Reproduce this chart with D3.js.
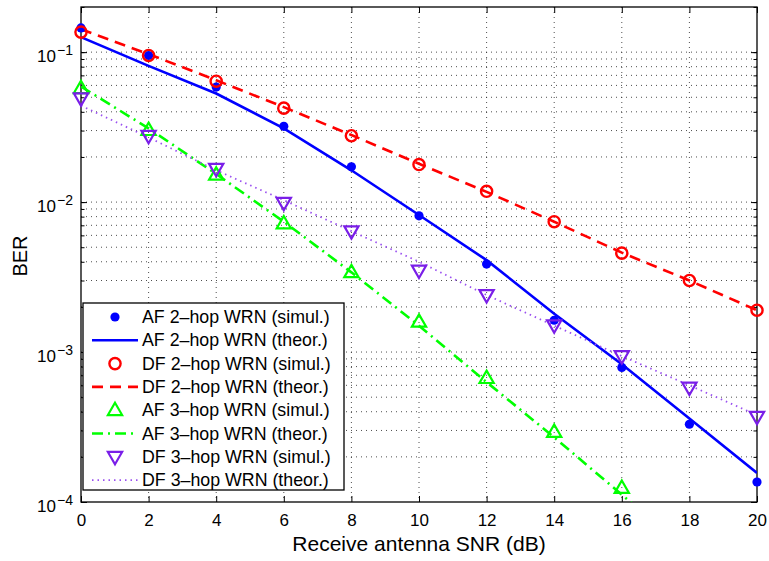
<!DOCTYPE html>
<html><head><meta charset="utf-8">
<script src="https://cdn.jsdelivr.net/npm/d3@7"></script>
<style>body{margin:0;background:#fff;} svg{display:block;font-family:"Liberation Sans",Arial,Helvetica,sans-serif;}</style>
</head><body><svg id="c" width="769" height="561"></svg>
<script>
const snr = [0,2,4,6,8,10,12,14,16,18,20];
const xTicks = [0,2,4,6,8,10,12,14,16,18,20];
const yTicks = [1e-4,1e-3,1e-2,1e-1];
const yTickExp = ["−4","−3","−2","−1"];
const af2Sim = [0.145,0.095,0.0585,0.032,0.0172,0.0081,0.00386,0.00163,0.00079,0.00033,0.000136];
const af2Th  = [0.126,0.081,0.053,0.031,0.0163,0.0082,0.0041,0.0018,0.00083,0.00036,0.000156];
const df2Sim = [0.136,0.095,0.064,0.0423,0.0277,0.0178,0.0118,0.0074,0.00457,0.0030,0.0019];
const df2Th  = [0.142,0.097,0.065,0.043,0.028,0.018,0.0117,0.0074,0.0046,0.0030,0.0019];
const af3Sim = [0.0575,0.0302,0.0152,0.0072,0.0034,0.00159,0.00067,0.000293,0.000124];
const af3Th  = [0.059,0.031,0.0154,0.0074,0.0034,0.0015,0.00063,0.00027,0.000112,0.0000464,0.000019];
const df3Sim = [0.0493,0.0277,0.0167,0.0099,0.0064,0.0035,0.0024,0.00151,0.00094,0.00058,0.00037];
const df3Th  = [0.044,0.027,0.0163,0.0103,0.0064,0.004,0.0024,0.0015,0.00094,0.0006,0.00038];
const legendLabels = ["AF 2–hop WRN (simul.)","AF 2–hop WRN (theor.)","DF 2–hop WRN (simul.)","DF 2–hop WRN (theor.)","AF 3–hop WRN (simul.)","AF 3–hop WRN (theor.)","DF 3–hop WRN (simul.)","DF 3–hop WRN (theor.)"];
const xLabel = "Receive antenna SNR (dB)";
const yLabel = "BER";

const L=81,R=757,T=7,B=502;
const svg=d3.select("#c");
const x=d3.scaleLinear().domain([0,20]).range([L,R]);
const y=d3.scaleLog().domain([1e-4,0.2]).range([B,T]);

// grid
const minor=[];
for(let e=-4;e<=-1;e++){for(let m=1;m<=9;m++){const v=m*Math.pow(10,e); if(v>=1e-4&&v<=0.2) minor.push(v);}}
const grid=svg.append("g").attr("stroke","#222").attr("stroke-width",0.8).attr("stroke-dasharray","1,4").attr("fill","none");
grid.selectAll(".gy").data(minor.filter(v=>v>1e-4&&v<0.2)).join("line").attr("x1",L).attr("x2",R).attr("y1",d=>y(d)).attr("y2",d=>y(d));
grid.selectAll(".gx").data(xTicks.slice(1,-1)).join("line").attr("y1",T).attr("y2",B).attr("x1",d=>x(d)).attr("x2",d=>x(d));

// axes
const ax=svg.append("g").attr("transform",`translate(0,${B})`).call(d3.axisBottom(x).tickValues(xTicks).tickSizeInner(-6).tickSizeOuter(0).tickPadding(12));
ax.selectAll("text").attr("font-size",17).attr("fill","#000").attr("font-family","Liberation Sans, Arial, sans-serif");
svg.append("g").attr("transform",`translate(0,${T})`).call(d3.axisTop(x).tickValues(xTicks).tickSizeInner(-6).tickSizeOuter(0).tickFormat(""));
svg.append("g").attr("transform",`translate(${L},0)`).call(d3.axisLeft(y).tickValues(minor).tickSizeInner(-3.5).tickSizeOuter(0).tickFormat(""));
svg.append("g").attr("transform",`translate(${L},0)`).call(d3.axisLeft(y).tickValues(yTicks).tickSizeInner(-6).tickSizeOuter(0).tickFormat(""));
svg.append("g").attr("transform",`translate(${R},0)`).call(d3.axisRight(y).tickValues(minor).tickSizeInner(-3.5).tickSizeOuter(0).tickFormat(""));
svg.append("g").attr("transform",`translate(${R},0)`).call(d3.axisRight(y).tickValues(yTicks).tickSizeInner(-6).tickSizeOuter(0).tickFormat(""));
svg.selectAll(".domain").remove();
svg.selectAll(".tick line").attr("stroke","#000").attr("stroke-width",1);
svg.append("rect").attr("x",L).attr("y",T).attr("width",R-L).attr("height",B-T).attr("fill","none").attr("stroke","#000").attr("stroke-width",1.3);

// y tick labels
const yl=svg.append("g");
yTicks.forEach((v,i)=>{
  yl.append("text").attr("x",56).attr("y",y(v)+10).attr("text-anchor","end").attr("font-size",17).text("10");
  yl.append("text").attr("x",57).attr("y",y(v)+3).attr("text-anchor","start").attr("font-size",14).text(yTickExp[i]);
});

// labels
svg.append("text").attr("x",(L+R)/2).attr("y",551).attr("text-anchor","middle").attr("font-size",21).text(xLabel);
svg.append("text").attr("transform",`translate(27,${256}) rotate(-90)`).attr("text-anchor","middle").attr("font-size",20).text(yLabel);

// clip
svg.append("clipPath").attr("id","clip").append("rect").attr("x",L).attr("y",T).attr("width",R-L).attr("height",B-T);
const plot=svg.append("g").attr("clip-path","url(#clip)");
const line=d3.line().x((d,i)=>x(snr[i])).y(d=>y(d));

function triUp(cx,cy,s){return `M${cx},${cy-s}L${cx+s*0.95},${cy+s*0.65}L${cx-s*0.95},${cy+s*0.65}Z`;}
function triDown(cx,cy,s){return `M${cx},${cy+s}L${cx+s*0.95},${cy-s*0.65}L${cx-s*0.95},${cy-s*0.65}Z`;}

const styles=[
 {type:"dot",color:"#0000ff"},
 {type:"line",color:"#0000ff",w:2.6,dash:null},
 {type:"circle",color:"#ff0000"},
 {type:"line",color:"#ff0000",w:2.6,dash:"11,7"},
 {type:"up",color:"#00ff00"},
 {type:"line",color:"#00ff00",w:2.6,dash:"11,5,2,5"},
 {type:"down",color:"#7a1ee8"},
 {type:"line",color:"#9a50f0",w:1.8,dash:"1.5,4"}
];
const series=[af2Sim,af2Th,df2Sim,df2Th,af3Sim,af3Th,df3Sim,df3Th];

function drawMarker(g,st,cx,cy){
  if(st.type==="dot") g.append("circle").attr("cx",cx).attr("cy",cy).attr("r",4.6).attr("fill",st.color);
  else if(st.type==="circle") g.append("circle").attr("cx",cx).attr("cy",cy).attr("r",5.6).attr("fill","none").attr("stroke",st.color).attr("stroke-width",2.4);
  else if(st.type==="up") g.append("path").attr("d",triUp(cx,cy,7.5)).attr("fill","none").attr("stroke",st.color).attr("stroke-width",2.2);
  else if(st.type==="down") g.append("path").attr("d",triDown(cx,cy,7.5)).attr("fill","none").attr("stroke",st.color).attr("stroke-width",2.2);
}
series.forEach((data,k)=>{
  const st=styles[k];
  if(st.type==="line"){
    plot.append("path").datum(data).attr("d",line).attr("fill","none").attr("stroke",st.color).attr("stroke-width",st.w).attr("stroke-dasharray",st.dash);
  } else {
    const g=svg.append("g");
    data.forEach((v,i)=>drawMarker(g,st,x(snr[i]),y(v)));
  }
});

// legend
const lg=svg.append("g");
lg.append("rect").attr("x",83).attr("y",303).attr("width",261).attr("height",187).attr("fill","#fff").attr("stroke","#000").attr("stroke-width",1.3);
legendLabels.forEach((t,i)=>{
  const cy=317+i*23.3, st=styles[i];
  if(st.type==="line") lg.append("line").attr("x1",92).attr("x2",138).attr("y1",cy).attr("y2",cy).attr("stroke",st.color).attr("stroke-width",st.w).attr("stroke-dasharray",st.dash);
  else drawMarker(lg,st,115,cy);
  lg.append("text").attr("x",142).attr("y",cy+6).attr("font-size",17.8).text(t);
});
</script></body></html>
